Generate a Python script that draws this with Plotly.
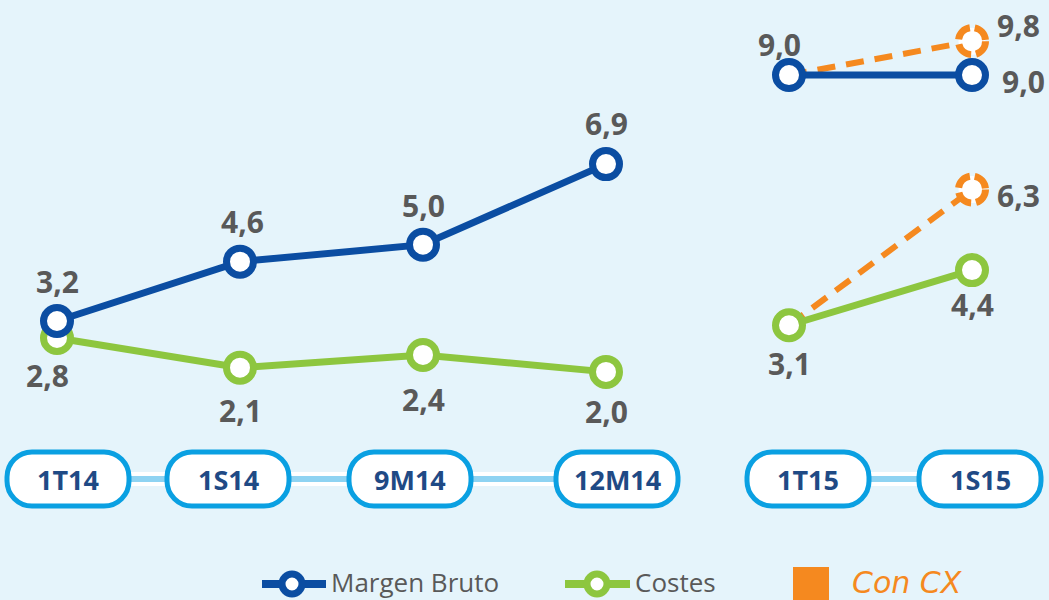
import plotly.graph_objects as go

# ---------------- data ----------------
categories = ["1T14", "1S14", "9M14", "12M14", "1T15", "1S15"]

margen_2014_x = ["1T14", "1S14", "9M14", "12M14"]
margen_2014 = [3.2, 4.6, 5.0, 6.9]
costes_2014 = [2.8, 2.1, 2.4, 2.0]

x_2015 = ["1T15", "1S15"]
margen_2015 = [9.0, 9.0]
costes_2015 = [3.1, 4.4]
margen_cx_2015 = [9.0, 9.8]
costes_cx_2015 = [3.1, 6.3]

legend_labels = ["Margen Bruto", "Costes", "Con CX"]

# ---------------- styles ----------------
BG = "#E5F4FB"
BLUE = "#0B4DA2"
GREEN = "#8DC63F"
ORANGE = "#F5891F"
PILL = "#0AA0E2"
PILL_TXT = "#1F4A85"
LBL = "#595959"
W, H = 1049, 600

def fmt(v):
    return f"{v:.1f}".replace(".", ",")

def cidx(c):
    return categories.index(c)

fig = go.Figure()

marker_ring = lambda col: dict(size=27, color="white", line=dict(color=col, width=7))

# orange dashed (Con CX) lines first (underneath)
fig.add_trace(go.Scatter(x=x_2015, y=margen_cx_2015, mode="lines",
                         line=dict(color=ORANGE, width=6, dash="18px,11px"),
                         showlegend=False, hoverinfo="skip"))
fig.add_trace(go.Scatter(x=x_2015, y=costes_cx_2015, mode="lines",
                         line=dict(color=ORANGE, width=6, dash="18px,11px"),
                         showlegend=False, hoverinfo="skip"))
# green
fig.add_trace(go.Scatter(x=margen_2014_x, y=costes_2014, mode="lines+markers",
                         line=dict(color=GREEN, width=7), marker=marker_ring(GREEN),
                         showlegend=False))
fig.add_trace(go.Scatter(x=x_2015, y=costes_2015, mode="lines+markers",
                         line=dict(color=GREEN, width=7), marker=marker_ring(GREEN),
                         showlegend=False))
# blue
fig.add_trace(go.Scatter(x=margen_2014_x, y=margen_2014, mode="lines+markers",
                         line=dict(color=BLUE, width=7), marker=marker_ring(BLUE),
                         showlegend=False))
fig.add_trace(go.Scatter(x=x_2015, y=margen_2015, mode="lines+markers",
                         line=dict(color=BLUE, width=7), marker=marker_ring(BLUE),
                         showlegend=False))

shapes = []
annotations = []

# dashed orange rings on the last Con CX points
for series in (margen_cx_2015, costes_cx_2015):
    shapes.append(dict(type="circle", xref="x", yref="y",
                       xsizemode="pixel", ysizemode="pixel",
                       xanchor=cidx(x_2015[-1]), yanchor=series[-1],
                       x0=-13.5, x1=13.5, y0=-13.5, y1=13.5,
                       fillcolor="white",
                       line=dict(color=ORANGE, width=7, dash="17px,5px"),
                       layer="above"))

# ---- data labels ----
lab_font = dict(family="Open Sans", size=30, color=LBL, weight="bold")

def add_labels(xs, ys, shifts):
    for x, y, (dx, dy) in zip(xs, ys, shifts):
        annotations.append(dict(x=cidx(x), y=y, xref="x", yref="y",
                                xanchor="center", yanchor="middle",
                                text="<b>" + fmt(y) + "</b>", showarrow=False,
                                xshift=dx, yshift=dy, font=lab_font))

add_labels(margen_2014_x, margen_2014, [(0, 40), (2, 40), (0, 39), (0, 41)])
add_labels(margen_2014_x, costes_2014, [(-10, -38), (0, -43), (0, -45), (0, -40)])
add_labels(x_2015, margen_2015, [(-10, 31), (51, -6)])
add_labels(x_2015, costes_2015, [(0, -38), (0, -34)])
add_labels(x_2015[1:], margen_cx_2015[1:], [(46, 16)])
add_labels(x_2015[1:], costes_cx_2015[1:], [(46, -6)])

# ---- category pills along the bottom ----
pill_y = 1 - 479 / H
pill_dx = [11, -12, -13, 11, 19, 8]

for group in (categories[:4], categories[4:]):
    a, b = cidx(group[0]), cidx(group[-1])
    for col, wd in (("white", 14), ("#8ED3F2", 6)):
        shapes.append(dict(type="line", xref="x", yref="paper",
                           x0=a, x1=b, y0=pill_y, y1=pill_y,
                           line=dict(color=col, width=wd), layer="below"))

hw, hh, r = 61, 27, 25
k = 0.55 * r
pill_path = (f"M {-hw + r},{-hh} L {hw - r},{-hh} "
             f"C {hw - r + k},{-hh} {hw},{-hh + r - k} {hw},{-hh + r} "
             f"L {hw},{hh - r} "
             f"C {hw},{hh - r + k} {hw - r + k},{hh} {hw - r},{hh} "
             f"L {-hw + r},{hh} "
             f"C {-hw + r - k},{hh} {-hw},{hh - r + k} {-hw},{hh - r} "
             f"L {-hw},{-hh + r} "
             f"C {-hw},{-hh + r - k} {-hw + r - k},{-hh} {-hw + r},{-hh} Z")

def shift_path(path, dx):
    out = []
    for tok in path.split(" "):
        if "," in tok:
            px_, py_ = tok.split(",")
            out.append(f"{float(px_) + dx},{py_}")
        else:
            out.append(tok)
    return " ".join(out)

for i, cat in enumerate(categories):
    shapes.append(dict(type="path", xref="x", yref="paper",
                       xsizemode="pixel", ysizemode="pixel",
                       xanchor=i, yanchor=pill_y,
                       path=shift_path(pill_path, pill_dx[i]),
                       fillcolor="white", line=dict(color=PILL, width=5),
                       layer="below"))
    annotations.append(dict(x=i, y=pill_y, xref="x", yref="paper",
                            xanchor="center", yanchor="middle",
                            text="<b>" + cat + "</b>", showarrow=False,
                            xshift=pill_dx[i], yshift=0,
                            font=dict(family="Open Sans", size=27, color=PILL_TXT)))

# ---- legend (drawn manually at the bottom) ----
ly = 1 - 584 / H
def px(v):
    return v / W

leg_items = [(262, 326, 292, BLUE, 329), (565, 630, 597, GREEN, 633)]
for (xa, xb, xc, col, xt), name in zip(leg_items, legend_labels[:2]):
    shapes.append(dict(type="line", xref="paper", yref="paper",
                       x0=px(xa), x1=px(xb), y0=ly, y1=ly,
                       line=dict(color=col, width=8), layer="above"))
    shapes.append(dict(type="circle", xref="paper", yref="paper",
                       xsizemode="pixel", ysizemode="pixel",
                       xanchor=px(xc), yanchor=ly,
                       x0=-10, x1=10, y0=-10, y1=10,
                       fillcolor="white", line=dict(color=col, width=7),
                       layer="above"))
    annotations.append(dict(x=px(xt), y=1 - 582 / H, xref="paper", yref="paper",
                            xanchor="left", yanchor="middle", text=name,
                            showarrow=False,
                            font=dict(family="Open Sans", size=26, color=LBL)))

shapes.append(dict(type="rect", xref="paper", yref="paper",
                   x0=px(793), x1=px(829), y0=1 - 610 / H, y1=1 - 567 / H,
                   fillcolor=ORANGE, line=dict(width=0), layer="above"))
annotations.append(dict(x=px(850), y=1 - 582 / H, xref="paper", yref="paper",
                        xanchor="left", yanchor="middle",
                        text="<i>" + legend_labels[2] + "</i>", showarrow=False,
                        font=dict(family="DejaVu Sans", size=30, color=ORANGE)))

# ---- layout ----
y_top = 3.2 + 321 / 42.4
y_bot = 3.2 - (H - 321) / 42.4

fig.update_layout(
    width=W, height=H,
    margin=dict(l=0, r=0, t=0, b=0),
    paper_bgcolor=BG, plot_bgcolor=BG,
    showlegend=False,
    xaxis=dict(type="category", categoryorder="array", categoryarray=categories,
               range=[-57 / 183, 5 + (W - 972) / 183],
               visible=False, fixedrange=True),
    yaxis=dict(range=[y_bot, y_top], visible=False, fixedrange=True),
    shapes=shapes,
    annotations=annotations,
)

fig.write_html("out.html", config={"displayModeBar": False},
               post_script="document.body.style.margin='0';document.body.style.overflow='hidden';")
